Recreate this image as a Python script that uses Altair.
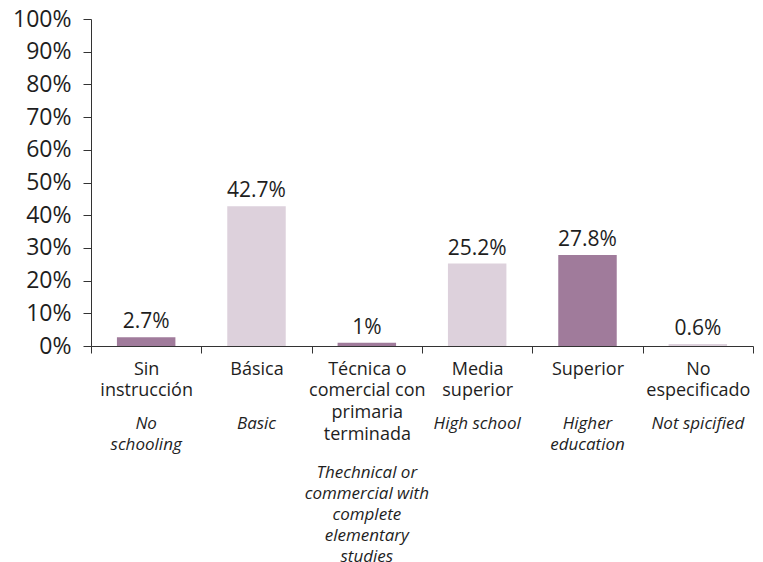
import altair as alt
import pandas as pd

cat_es = [["Sin", "instrucción"], ["Básica"], ["Técnica o", "comercial con", "primaria", "terminada"],
          ["Media", "superior"], ["Superior"], ["No", "especificado"]]
cat_en = [["No", "schooling"], ["Basic"], ["Thechnical or", "commercial with", "complete", "elementary", "studies"],
          ["High school"], ["Higher", "education"], ["Not spicified"]]
values = [2.7, 42.7, 1.0, 25.2, 27.8, 0.6]
value_labels = ["2.7%", "42.7%", "1%", "25.2%", "27.8%", "0.6%"]
shade = ["dark", "light", "dark", "light", "dark", "light"]
y_ticks = [0, 10, 20, 30, 40, 50, 60, 70, 80, 90, 100]

keys = ["|".join(c) for c in cat_es]
en_keys = ["|".join(c) for c in cat_en]
long_key = keys[2]  # category whose English text sits below a four-line Spanish label

df = pd.DataFrame({"cat": keys, "value": values, "label": value_labels, "shade": shade})

FONT = "Open Sans"
TXT = "#1e1e1e"

es_expr = "isValid(datum.value) ? split(datum.value, '|') : ''"
en_arr = "[" + ",".join("'" + k + "'" for k in en_keys) + "]"
key_arr = "[" + ",".join("'" + k + "'" for k in keys) + "]"
lookup = f"split({en_arr}[indexof({key_arr}, datum.value)], '|')"
en_expr_short = f"isValid(datum.value) && indexof({key_arr}, datum.value) >= 0 && datum.value != '{long_key}' ? {lookup} : ''"
en_expr_long = f"datum.value == '{long_key}' ? {lookup} : ''"

xscale = alt.Scale(paddingInner=0, paddingOuter=0)
yscale = alt.Scale(domain=[0, 100])
yaxis = alt.Axis(values=y_ticks, labelExpr="datum.value + '%'", tickSize=8, tickColor="#333",
                 domainColor="#333", labelFont=FONT, labelFontSize=23, labelColor=TXT,
                 labelPadding=12, labelOverlap=False, grid=False)


def en_axis(expr, pad):
    return alt.Axis(orient="bottom", labelExpr=expr, labelAngle=0, domain=False, ticks=False,
                    labelFont=FONT, labelFontSize=17, labelFontStyle="italic", labelLineHeight=21,
                    labelColor=TXT, labelPadding=pad, labelOverlap=False, labelBaseline="top",
                    grid=False)


bars = alt.Chart(df).mark_bar(width=alt.RelativeBandSize(0.53)).encode(
    x=alt.X("cat:N", sort=keys, scale=xscale, title=None,
            axis=alt.Axis(orient="bottom", labelExpr=es_expr, labelAngle=0, tickBand="extent",
                          tickSize=7, tickColor="#333", domainColor="#333", labelFont=FONT,
                          labelFontSize=18, labelLineHeight=21.7, labelColor=TXT, labelPadding=7,
                          labelOverlap=False, labelBaseline="top", grid=False)),
    y=alt.Y("value:Q", scale=yscale, title=None, axis=yaxis),
    color=alt.Color("shade:N", scale=alt.Scale(domain=["dark", "light"], range=["#a07b9b", "#ddd1dc"]),
                    legend=None),
)

text = alt.Chart(df).mark_text(baseline="bottom", dy=-5, font=FONT, fontSize=21, color=TXT).encode(
    x=alt.X("cat:N", sort=keys, scale=xscale, title=None, axis=en_axis(en_expr_short, 69)),
    y=alt.Y("value:Q", scale=yscale, title=None, axis=yaxis),
    text="label:N",
)

ghost = alt.Chart(df).mark_bar(opacity=0).encode(
    x=alt.X("cat:N", sort=keys, scale=xscale, title=None, axis=en_axis(en_expr_long, 118)),
    y=alt.Y("value:Q", scale=yscale, title=None, axis=yaxis),
)

chart = alt.layer(bars, text, ghost).resolve_axis(x="independent").properties(
    width=662, height=327,
    autosize=alt.AutoSizeParams(type="none"),
    padding={"left": 83, "top": 11, "right": 2, "bottom": 216},
).configure_view(stroke=None)

chart.save("out.html", embed_options={"renderer": "svg", "actions": False})
